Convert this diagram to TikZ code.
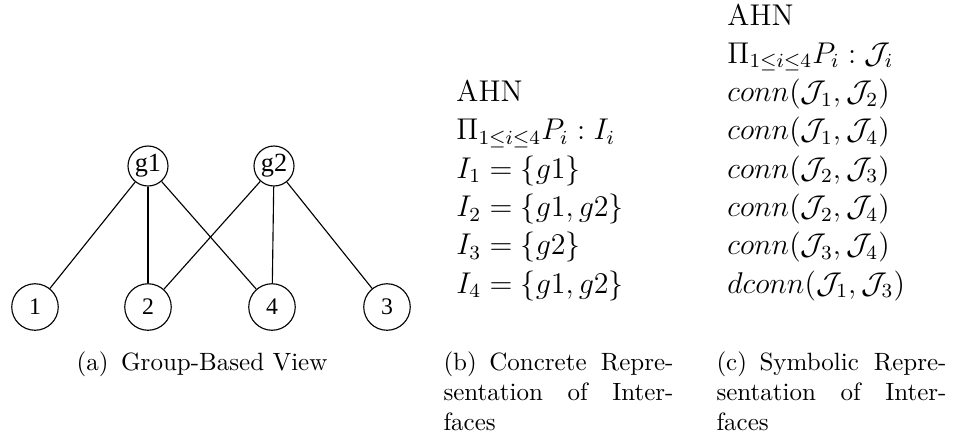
\documentclass[tikz,border=0pt]{standalone}
\usepackage{fontspec}
\newfontfamily\graphfont{Liberation Serif}

\begin{document}
\begin{tikzpicture}[
    x=0.4pt, y=-0.4pt,
    groupnode/.style={circle, draw, line width=0.45pt, inner sep=0pt, minimum size=16pt, font=\graphfont\fontsize{10.5}{12}\selectfont},
    peernode/.style={circle, draw, line width=0.45pt, inner sep=0pt, minimum size=18.6pt, font=\graphfont\fontsize{9.5}{11}\selectfont},
    link/.style={line width=0.45pt},
    rowtext/.style={anchor=base west, inner sep=0pt, font=\fontsize{12}{14}\selectfont},
    captext/.style={anchor=base west, inner sep=0pt}
]

% Page size
\useasboundingbox (0,0) rectangle (963,443);

% (a) Group-Based View
% Groups
\node[groupnode] (g1) at (148,166) {g1};
\node[groupnode] (g2) at (274,166) {g2};
% Peers
\node[peernode] (p1) at (35,307) {1};
\node[peernode] (p2) at (148,307) {2};
\node[peernode] (p4) at (272,307) {4};
\node[peernode] (p3) at (387,307) {3};

% Membership links
\draw[link] (g1) -- (p1);
\draw[link] (g1) -- (p2);
\draw[link] (g1) -- (p4);
\draw[link] (g2) -- (p2);
\draw[link] (g2) -- (p4);
\draw[link] (g2) -- (p3);

\node[anchor=base, inner sep=0pt] (capa) at (202,370) {(a)\enskip Group-Based View};

% (b) Concrete Representation of Interfaces
\node[rowtext] (b0) at (456,101.6) {AHN};
\node[rowtext] (b1) at (456,139.9) {$\Pi_{1\leq i\leq 4}P_i : I_i$};
\node[rowtext] (b2) at (456,178.2) {$I_1 = \{g1\}$};
\node[rowtext] (b3) at (456,216.5) {$I_2 = \{g1, g2\}$};
\node[rowtext] (b4) at (456,254.8) {$I_3 = \{g2\}$};
\node[rowtext] (b5) at (456,293.1) {$I_4 = \{g1, g2\}$};

\node[captext] (capb1) at (443,370) {\makebox[92pt][s]{(b)\enskip Concrete Repre-}};
\node[captext] (capb2) at (443,400) {\makebox[92pt][s]{sentation of Inter-}};
\node[captext] (capb3) at (443,430) {faces};

% (c) Symbolic Representation of Interfaces
\node[rowtext] (c0) at (727,25) {AHN};
\node[rowtext] (c1) at (727,63.3) {$\Pi_{1\leq i\leq 4}P_i : \mathcal{J}_i$};
\node[rowtext] (c2) at (727,101.6) {$conn(\mathcal{J}_1, \mathcal{J}_2)$};
\node[rowtext] (c3) at (727,139.9) {$conn(\mathcal{J}_1, \mathcal{J}_4)$};
\node[rowtext] (c4) at (727,178.2) {$conn(\mathcal{J}_2, \mathcal{J}_3)$};
\node[rowtext] (c5) at (727,216.5) {$conn(\mathcal{J}_2, \mathcal{J}_4)$};
\node[rowtext] (c6) at (727,254.8) {$conn(\mathcal{J}_3, \mathcal{J}_4)$};
\node[rowtext] (c7) at (727,293.1) {$dconn(\mathcal{J}_1, \mathcal{J}_3)$};

\node[captext] (capc1) at (716,370) {\makebox[92pt][s]{(c)\enskip Symbolic Repre-}};
\node[captext] (capc2) at (716,400) {\makebox[92pt][s]{sentation of Inter-}};
\node[captext] (capc3) at (716,430) {faces};

\end{tikzpicture}
\end{document}
